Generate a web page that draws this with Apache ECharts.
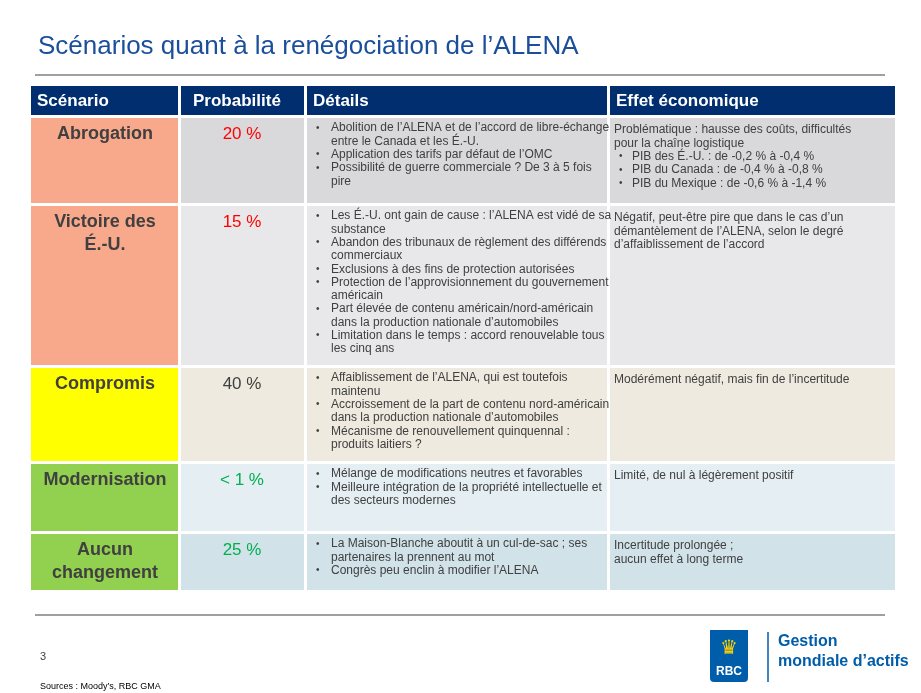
<!DOCTYPE html>
<html><head><meta charset="utf-8">
<script src="https://cdn.jsdelivr.net/npm/echarts@6/dist/echarts.min.js"></script>
<style>html,body{margin:0;padding:0;background:#fff}#c{width:921px;height:693px}</style>
</head><body><div id="c"></div>
<script>
const headers = ['Scénario','Probabilité','Détails','Effet économique'];
const scenarios = [['Abrogation'],['Victoire des','É.-U.'],['Compromis'],['Modernisation'],['Aucun','changement']];
const probabilities = ['20 %','15 %','40 %','< 1 %','25 %'];
const probColors = ['#FF0000','#FF0000','#404040','#00B050','#00B050'];
const scenarioFills = ['#F9A98B','#F9A98B','#FFFF00','#92D050','#92D050'];
const rowFills = ['#D9D9DC','#E8E8EA','#EEEAE0','#E5EEF2','#D2E2E9'];
// each detail: list of bullets, each bullet = wrapped lines
const details = [
 [['Abolition de l’ALENA et de l’accord de libre-échange','entre le Canada et les É.-U.'],['Application des tarifs par défaut de l’OMC'],['Possibilité de guerre commerciale ? De 3 à 5 fois','pire']],
 [['Les É.-U. ont gain de cause : l’ALENA est vidé de sa','substance'],['Abandon des tribunaux de règlement des différends','commerciaux'],['Exclusions à des fins de protection autorisées'],['Protection de l’approvisionnement du gouvernement','américain'],['Part élevée de contenu américain/nord-américain','dans la production nationale d’automobiles'],['Limitation dans le temps : accord renouvelable tous','les cinq ans']],
 [['Affaiblissement de l’ALENA, qui est toutefois','maintenu'],['Accroissement de la part de contenu nord-américain','dans la production nationale d’automobiles'],['Mécanisme de renouvellement quinquennal :','produits laitiers ?']],
 [['Mélange de modifications neutres et favorables'],['Meilleure intégration de la propriété intellectuelle et','des secteurs modernes']],
 [['La Maison-Blanche aboutit à un cul-de-sac ; ses','partenaires la prennent au mot'],['Congrès peu enclin à modifier l’ALENA']]
];
const effectText = [
 ['Problématique : hausse des coûts, difficultés','pour la chaîne logistique'],
 ['Négatif, peut-être pire que dans le cas d’un','démantèlement de l’ALENA, selon le degré','d’affaiblissement de l’accord'],
 ['Modérément négatif, mais fin de l’incertitude'],
 ['Limité, de nul à légèrement positif'],
 ['Incertitude prolongée ;','aucun effet à long terme']
];
const effectBullets = [['PIB des É.-U. : de -0,2 % à -0,4 %','PIB du Canada : de -0,4 % à -0,8 %','PIB du Mexique : de -0,6 % à -1,4 %'],[],[],[],[]];

const colX = [31,181,307,610,895];
const rowY = [118,206,368,464,534];
const rowH = [85,159,93,67,56];
const F = 'Liberation Sans, Arial, sans-serif';
const LH = 13.3;
const g = [];
const txt = (x,y,s,o)=>g.push({type:'text',x,y,style:Object.assign({text:s,fill:'#404040',font:'12px '+F,textVerticalAlign:'middle'},o||{})});
// title
txt(38,47,'Scénarios quant à la renégociation de l’ALENA',{fill:'#1B4F9C',font:'26px '+F});
g.push({type:'line',shape:{x1:35,y1:75,x2:885,y2:75},style:{stroke:'#404040',lineWidth:1}});
// header
g.push({type:'rect',shape:{x:31,y:86,width:864,height:29},style:{fill:'#002E6E'}});
for(let i=0;i<4;i++){
  const xs = i===1 ? colX[1]+12 : colX[i]+6;
  txt(xs,101,headers[i],{fill:'#fff',font:'bold 17px '+F});
}
for(let c=1;c<4;c++) g.push({type:'rect',shape:{x:colX[c]-3,y:86,width:3,height:505},style:{fill:'#fff'}});
for(let r=0;r<5;r++){
  const y=rowY[r],h=rowH[r];
  g.push({type:'rect',shape:{x:colX[0],y,width:colX[1]-3-colX[0],height:h},style:{fill:scenarioFills[r]}});
  for(let c=1;c<4;c++) g.push({type:'rect',shape:{x:colX[c],y,width:colX[c+1]-3-colX[c]+(c===3?3:0),height:h},style:{fill:rowFills[r]}});
  scenarios[r].forEach((s,i)=>txt(105,y+16+i*23,s,{fill:'#404040',font:'bold 18px '+F,textAlign:'center'}));
  txt(242,y+16,probabilities[r],{fill:probColors[r],font:'17px '+F,textAlign:'center'});
  let yy=y+10;
  details[r].forEach(b=>{txt(316,yy,'•',{font:'10px '+F});b.forEach(l=>{txt(331,yy,l);yy+=LH;});});
  let ye=y+12;
  effectText[r].forEach(l=>{txt(614,ye,l);ye+=LH;});
  effectBullets[r].forEach(l=>{txt(619,ye,'•',{font:'10px '+F});txt(632,ye,l);ye+=LH;});
}
g.push({type:'line',shape:{x1:35,y1:615,x2:885,y2:615},style:{stroke:'#404040',lineWidth:1}});
txt(40,657,'3',{font:'11px '+F});
txt(40,687,'Sources : Moody’s, RBC GMA',{font:'9px '+F,fill:'#000'});
// logo
g.push({type:'rect',shape:{x:710,y:630,width:38,height:52,r:[0,0,4,4]},style:{fill:'#005DAA'}});
txt(729,648,'♛',{fill:'#FFD200',font:'20px '+F,textAlign:'center'});
txt(729,672,'RBC',{fill:'#fff',font:'bold 12px '+F,textAlign:'center'});
g.push({type:'line',shape:{x1:768,y1:632,x2:768,y2:682},style:{stroke:'#005DAA',lineWidth:1.5}});
txt(778,642,'Gestion',{fill:'#005DAA',font:'bold 16px '+F});
txt(778,662,'mondiale d’actifs',{fill:'#005DAA',font:'bold 16px '+F});

const chart = echarts.init(document.getElementById('c'));
chart.setOption({animation:false,graphic:{elements:g}});
</script></body></html>
